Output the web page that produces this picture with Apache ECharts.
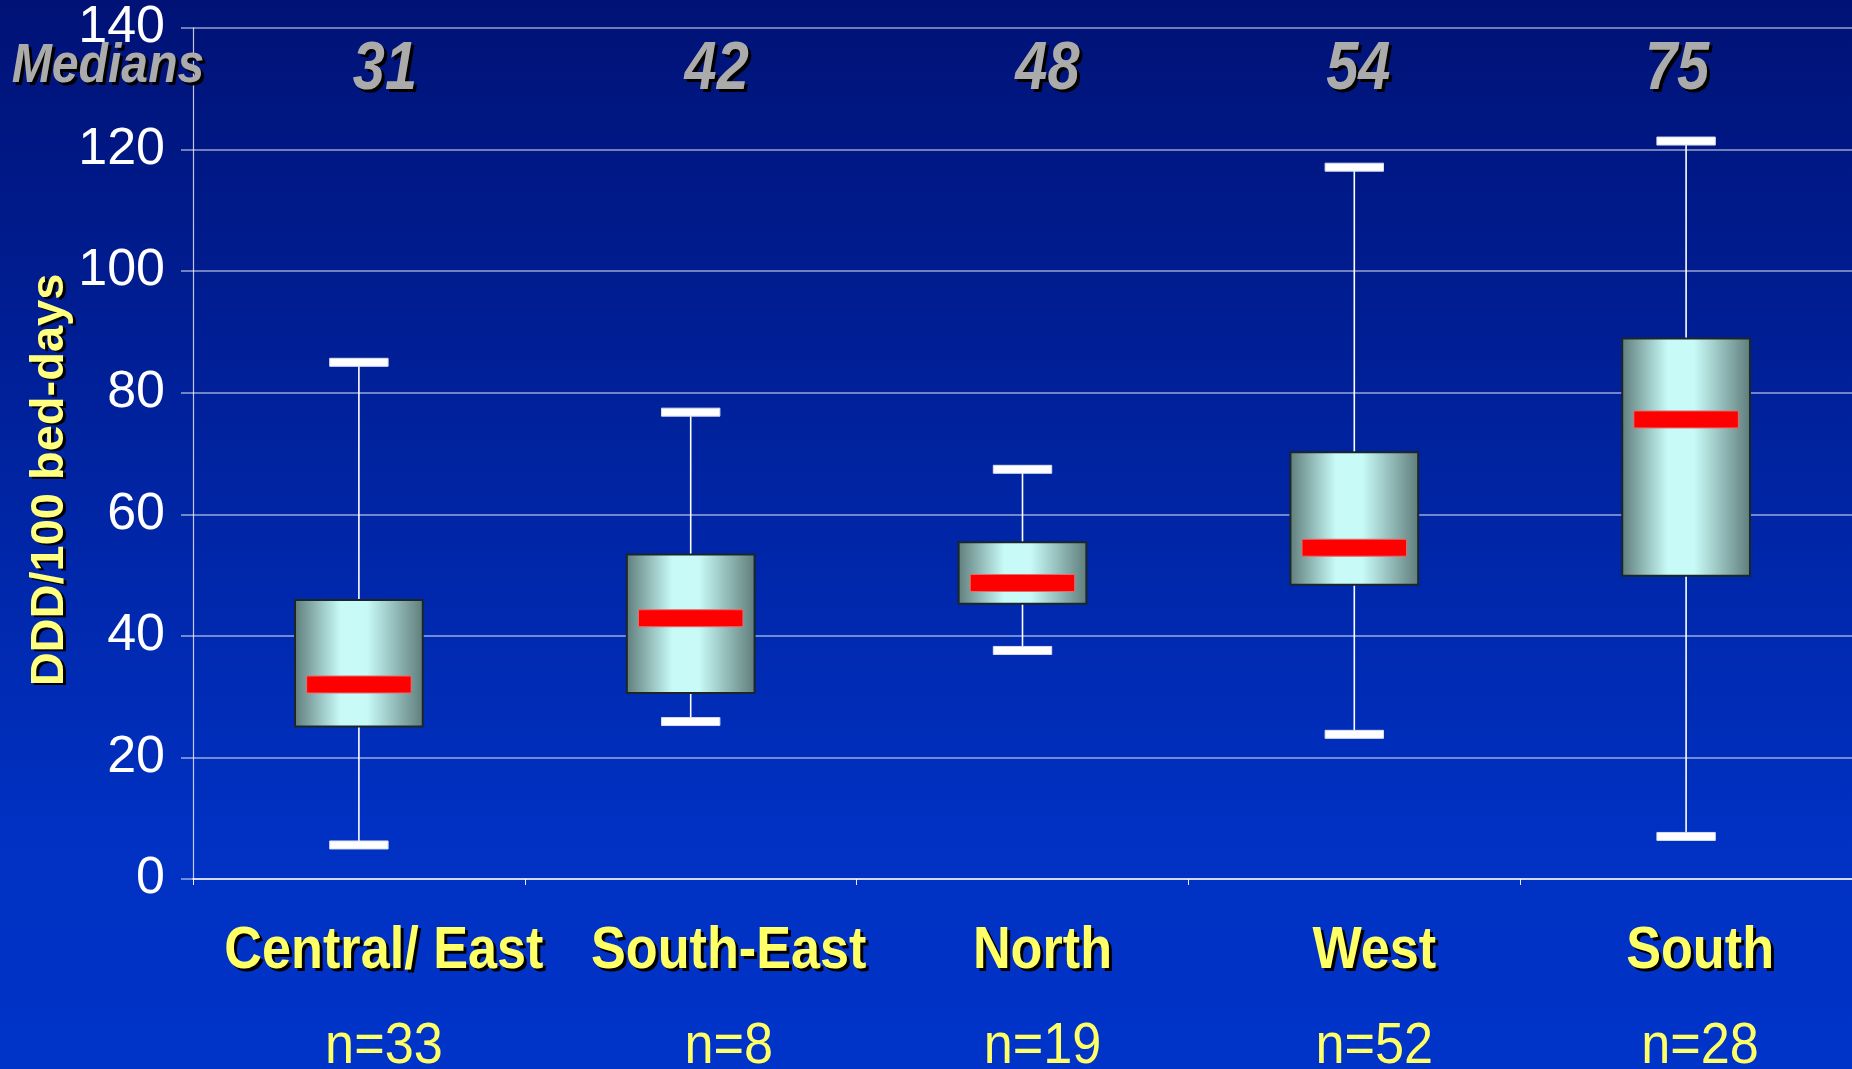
<!DOCTYPE html>
<html><head><meta charset="utf-8">
<script src="https://cdn.jsdelivr.net/npm/echarts@6/dist/echarts.min.js"></script>
<style>html,body{margin:0;padding:0;width:1852px;height:1069px;overflow:hidden;background:#0026a0}#c{width:1852px;height:1069px}</style>
</head><body><div id="c"></div>
<script>
// ---- data ----
const categories   = ['Central/ East', 'South-East', 'North', 'West', 'South'];
const sampleSizes  = ['n=33', 'n=8', 'n=19', 'n=52', 'n=28'];
const medianLabels = ['31', '42', '48', '54', '75'];
const whiskerLow   = [5.6, 25.9, 37.6, 23.8, 7.0];
const quartile1    = [25.1, 30.6, 45.3, 48.4, 49.9];
const medians      = [32.0, 42.9, 48.7, 54.5, 75.6];
const quartile3    = [45.9, 53.4, 55.4, 70.2, 88.9];
const whiskerHigh  = [85.0, 76.8, 67.4, 117.1, 121.4];
const yTicks       = [0, 20, 40, 60, 80, 100, 120, 140];

// label layout (pixel nudges of the slide's hand-placed text)
const catLabelDx = [25, 38, 20, 20, 14];
const medLabelDx = [26, 26, 25, 4, -9];

const boxData = categories.map((c, i) => [i, whiskerLow[i], quartile1[i], medians[i], quartile3[i], whiskerHigh[i]]);

const chart = echarts.init(document.getElementById('c'), null, {renderer: 'canvas'});
const FONT = '"Liberation Sans", Arial, sans-serif';

const option = {
  animation: false,
  backgroundColor: {type: 'linear', x: 0, y: 0, x2: 0, y2: 1,
    colorStops: [{offset: 0, color: '#001276'}, {offset: 0.78, color: '#0031c2'}, {offset: 1, color: '#0033c8'}]},
  grid: {left: 193, right: 0, top: 28, bottom: 190},
  xAxis: {
    type: 'category', data: categories, boundaryGap: true,
    axisLine: {lineStyle: {color: 'rgba(255,255,255,0.9)', width: 1.5}},
    axisTick: {show: true, length: 6, lineStyle: {color: 'rgba(255,255,255,0.9)'}},
    axisLabel: {show: false}, splitLine: {show: false}
  },
  yAxis: {
    type: 'value', min: yTicks[0], max: yTicks[yTicks.length - 1], interval: 20,
    axisLine: {show: true, lineStyle: {color: 'rgba(255,255,255,0.75)', width: 1.2}},
    axisTick: {show: true, length: 12, lineStyle: {color: 'rgba(255,255,255,0.6)', width: 1.5}},
    axisLabel: {color: '#ffffff', fontSize: 52, fontFamily: FONT, margin: 28},
    splitLine: {lineStyle: {color: 'rgba(255,255,255,0.6)', width: 1.5}}
  },
  series: [{
    type: 'custom',
    data: boxData,
    encode: {x: 0, y: [1, 2, 3, 4, 5]},
    clip: false,
    renderItem: function (params, api) {
      const i = api.value(0);
      const cx = api.coord([i, 0])[0];
      const yLow = api.coord([i, api.value(1)])[1];
      const yQ1 = api.coord([i, api.value(2)])[1];
      const yMed = api.coord([i, api.value(3)])[1];
      const yQ3 = api.coord([i, api.value(4)])[1];
      const yHigh = api.coord([i, api.value(5)])[1];
      const band = api.size([1, 0])[0];
      const bw = band * 0.385, mw = band * 0.315, cw = band * 0.176;
      const capH = 8, medH = 17;
      return {
        type: 'group',
        children: [
          {type: 'line', shape: {x1: cx, y1: yHigh, x2: cx, y2: yQ3}, style: {stroke: '#ffffff', lineWidth: 1.6}},
          {type: 'line', shape: {x1: cx, y1: yQ1, x2: cx, y2: yLow}, style: {stroke: '#ffffff', lineWidth: 1.6}},
          {type: 'rect', shape: {x: cx - cw / 2, y: yHigh - capH / 2, width: cw, height: capH}, style: {fill: '#ffffff', stroke: '#d8dcf0', lineWidth: 1}},
          {type: 'rect', shape: {x: cx - cw / 2, y: yLow - capH / 2, width: cw, height: capH}, style: {fill: '#ffffff', stroke: '#d8dcf0', lineWidth: 1}},
          {type: 'rect', shape: {x: cx - bw / 2, y: yQ3, width: bw, height: yQ1 - yQ3},
            style: {fill: new echarts.graphic.LinearGradient(0, 0, 1, 0, [
              {offset: 0, color: '#5e7c7a'}, {offset: 0.36, color: '#c8fbf8'},
              {offset: 0.56, color: '#c8fbf8'}, {offset: 1, color: '#5e7c7a'}]),
              stroke: '#1b2628', lineWidth: 2}},
          {type: 'rect', shape: {x: cx - mw / 2, y: yMed - medH / 2, width: mw, height: medH}, style: {fill: '#ff0000', stroke: '#e07070', lineWidth: 1}}
        ]
      };
    }
  }]
};
chart.setOption(option);

// ---- annotations placed through the chart's own scales ----
const graphics = [];
function shadowText(x, y, text, color, font, opts) {
  opts = opts || {};
  const dx = opts.dx == null ? 3 : opts.dx, dy = opts.dy == null ? 3 : opts.dy;
  const base = {scaleX: opts.scaleX || 1, scaleY: opts.scaleY || 1, rotation: opts.rotation || 0};
  graphics.push(Object.assign({type: 'text', x: x + dx, y: y + dy, z: 10},
    base, {style: {text: text, fill: '#000000', font: font, align: 'center', verticalAlign: 'middle'}}));
  graphics.push(Object.assign({type: 'text', x: x, y: y, z: 11},
    base, {style: {text: text, fill: color, font: font, align: 'center', verticalAlign: 'middle'}}));
}
const medTextY = chart.convertToPixel({yAxisIndex: 0}, 133.6);
const medNumY = chart.convertToPixel({yAxisIndex: 0}, 133.0);
shadowText(108, medTextY, 'Medians', '#ababab', 'italic bold 56px ' + FONT, {scaleX: 0.86});
shadowText(50, 480, 'DDD/100 bed-days', '#ffff80', 'bold 47px ' + FONT, {rotation: Math.PI / 2, dx: 3, dy: 2});
const baseY = chart.convertToPixel({yAxisIndex: 0}, 0);
categories.forEach((c, i) => {
  const cx = chart.convertToPixel({xAxisIndex: 0}, i);
  shadowText(cx + medLabelDx[i], medNumY, medianLabels[i], '#ababab', 'italic bold 68px ' + FONT, {scaleX: 0.85});
  shadowText(cx + catLabelDx[i], baseY + 72, c, '#ffff66', 'bold 60px ' + FONT, {scaleX: 0.87});
  graphics.push({type: 'text', x: cx + catLabelDx[i], y: baseY + 168, scaleX: 0.9,
    style: {text: sampleSizes[i], fill: '#ffff66', font: '58px ' + FONT, align: 'center', verticalAlign: 'middle'}});
});
chart.setOption({graphic: graphics});
</script>
</body></html>
